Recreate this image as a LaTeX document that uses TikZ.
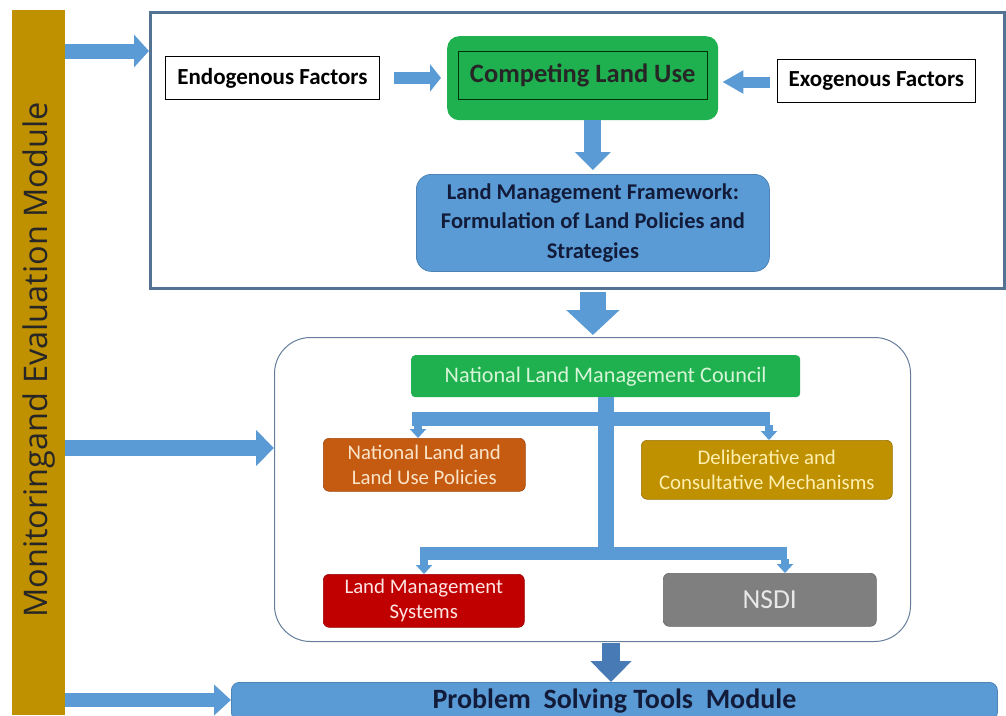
\documentclass[tikz,border=0pt]{standalone}
\usepackage{fontspec}
\setmainfont{Carlito}
\newfontfamily\sidefont{Open Sans}
\usetikzlibrary{arrows.meta,calc}

\definecolor{arrowblue}{RGB}{91,155,213}
\definecolor{deepblue}{RGB}{72,122,182}
\definecolor{framecol}{RGB}{84,114,146}
\definecolor{midframe}{RGB}{100,125,155}
\definecolor{goldbar}{RGB}{191,144,0}
\definecolor{leafgreen}{RGB}{31,176,80}
\definecolor{navytext}{RGB}{18,28,58}
\definecolor{rust}{RGB}{197,90,17}
\definecolor{ochre}{RGB}{191,144,0}
\definecolor{crimson}{RGB}{192,0,0}
\definecolor{slate}{RGB}{127,127,127}

\begin{document}
\begin{tikzpicture}[x=1pt,y=-1pt,
  blockarrow/.style n args={3}{draw=arrowblue, line width=#1,
    -{Triangle[width=#2, length=#3]}},
  plainbox/.style={draw=black, line width=0.8pt, fill=white, inner sep=0pt,
    anchor=north west, font=\bfseries\fontsize{23}{27}\selectfont},
  unitbox/.style={rounded corners=6pt, inner sep=0pt, anchor=north west,
    align=center, font=\fontsize{20.8}{25}\selectfont},
]
\useasboundingbox (0,0) rectangle (1006,715);

% monitoring bar on the left
\node[fill=goldbar, inner sep=0pt, anchor=north west,
      minimum width=53pt, minimum height=705pt] (bar) at (12,10) {};
\node[rotate=90, font=\sidefont\fontsize{32.5}{34}\selectfont, text=black!85]
      (bartext) at (39,360) {Monitoringand Evaluation Module};

% upper frame
\node[draw=framecol, line width=3pt, inner sep=0pt, anchor=north west,
      minimum width=854pt, minimum height=276pt] (topframe) at (149,11) {};

\node[plainbox, minimum width=214pt, minimum height=43pt] (endo) at (165,56)
      {Endogenous Factors};
\node[plainbox, minimum width=198pt, minimum height=43pt] (exo) at (777,59)
      {Exogenous Factors};

\node[fill=leafgreen, rounded corners=12pt, inner sep=0pt, anchor=north west,
      minimum width=271pt, minimum height=84pt] (comp) at (447,36) {};
\node[draw=black!80!green, line width=1pt, inner sep=0pt,
      minimum width=249pt, minimum height=48pt,
      font=\bfseries\fontsize{26.5}{31}\selectfont, text=black!85]
      (compin) at ($(comp.center)+(0,-3)$) {Competing Land Use};

\node[fill=arrowblue, draw=arrowblue!85!black, line width=0.8pt,
      rounded corners=15pt, inner sep=0pt, anchor=north west,
      minimum width=353pt, minimum height=97pt, align=center,
      font=\bfseries\fontsize{22.5}{29.5}\selectfont, text=navytext]
      (lmf) at (416,174)
      {Land Management Framework:\\Formulation of Land Policies and\\Strategies};

% middle frame with the council and its units
\node[draw=midframe, line width=1pt, rounded corners=36pt, inner sep=0pt,
      anchor=north west, minimum width=636pt, minimum height=304pt]
      (midframe) at (274,337) {};

\node[fill=leafgreen, rounded corners=4pt, inner sep=0pt, anchor=north west,
      minimum width=389pt, minimum height=42pt, text={rgb,255:red,215;green,245;blue,215},
      font=\fontsize{22.2}{26}\selectfont]
      (council) at (411,355) {National Land Management Council};

\node[unitbox, fill=rust, draw=rust!80!black, line width=0.6pt,
      minimum width=202pt, minimum height=53pt,
      text={rgb,255:red,250;green,228;blue,200}]
      (policies) at (323,438) {National Land and\\Land Use Policies};
\node[unitbox, fill=ochre, draw=ochre!80!black, line width=0.6pt,
      minimum width=251pt, minimum height=59pt,
      text={rgb,255:red,255;green,240;blue,175}]
      (mechanisms) at (641,440) {Deliberative and\\Consultative Mechanisms};
\node[unitbox, fill=crimson, draw=crimson!80!black, line width=0.6pt,
      minimum width=201pt, minimum height=53pt,
      text={rgb,255:red,255;green,228;blue,228}]
      (systems) at (323,574) {Land Management\\Systems};
\node[unitbox, fill=slate, draw=slate!80!black, line width=0.6pt,
      minimum width=213pt, minimum height=53pt,
      text={rgb,255:red,232;green,232;blue,232},
      font=\fontsize{27.5}{30}\selectfont]
      (nsdi) at (663,573) {NSDI};

% bottom module
\node[fill=arrowblue, draw=arrowblue!85!black, line width=0.8pt,
      rounded corners=8pt, inner sep=0pt, anchor=north west,
      minimum width=766pt, minimum height=38pt,
      font=\bfseries\fontsize{28}{32}\selectfont, text=navytext]
      (tools) at (231,682) {Problem\ \ Solving Tools\ \ Module};

% arrows from the monitoring bar
\draw[blockarrow={15}{32}{15}] (bar.east |- 0,51) -- (topframe.west |- 0,51);
\draw[blockarrow={16}{35}{18}] (bar.east |- 0,448) -- (midframe.west |- 0,448);
\draw[blockarrow={14}{30}{17}] (bar.east |- 0,700) -- (tools.west |- 0,700);

% arrows inside the upper frame
\draw[blockarrow={12}{27}{11}, shorten <=14pt, shorten >=6pt]
      (endo.east) -- (comp.west |- endo.east);
\draw[blockarrow={11}{22}{21}, shorten <=7pt, shorten >=4pt]
      (exo.west |- 0,82) -- (comp.east |- 0,82);
\draw[blockarrow={17}{35}{18}, shorten >=4pt]
      (comp.south -| lmf.north) -- (lmf.north);

% arrow from the upper frame to the middle frame
\draw[blockarrow={26}{52}{25}, shorten <=1.5pt, shorten >=2pt]
      (lmf.south |- topframe.south) -- (lmf.south |- midframe.north);

% council tree
\coordinate (trunktop) at (council.south -| 606,0);
\coordinate (trunkbot) at (606,560);
\draw[arrowblue, line width=16pt] (trunktop) -- (trunkbot);
\draw[arrowblue, line width=14pt] (412,419) -- (770,419);
\draw[arrowblue, line width=13pt] (420,553) -- (787,553);
\draw[blockarrow={8}{16}{9}] (418,425) -- (policies.north -| 418,0);
\draw[blockarrow={8}{16}{9}] (769,425) -- (mechanisms.north -| 769,0);
\draw[blockarrow={8}{16}{9}] (424,559) -- (systems.north -| 424,0);
\draw[blockarrow={8}{16}{9}] (785,559) -- (nsdi.north -| 785,0);

% arrow from the middle frame to the tools module
\draw[blockarrow={18}{40}{21}, draw=deepblue, shorten <=1pt]
      (midframe.south -| 611,0) -- (tools.north -| 611,0);
\end{tikzpicture}
\end{document}
